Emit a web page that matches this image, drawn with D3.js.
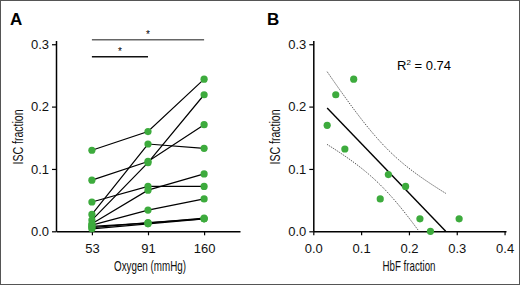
<!DOCTYPE html>
<html>
<head>
<meta charset="utf-8">
<title>ISC fraction</title>
<script src="https://cdnjs.cloudflare.com/ajax/libs/d3/7.8.5/d3.min.js"></script>
<style>
  body { margin: 0; background: #fff; }
  text { font-family: "Liberation Sans", Arial, sans-serif; }
</style>
</head>
<body>
<svg id="chart" width="520" height="285"></svg>
<script>
// panel A: ISC fraction per subject at three oxygen levels
const oxygen = ["53", "91", "160"];
const iscAt53  = [0.130, 0.082, 0.027, 0.018, 0.047, 0.012, 0.010, 0.006, 0.004, 0.008];
const iscAt91  = [0.160, 0.112, 0.140, 0.110, 0.072, 0.066, 0.034, 0.014, 0.012, 0.013];
const iscAt160 = [0.244, 0.171, 0.133, 0.219, 0.072, 0.092, 0.052, 0.020, 0.020, 0.021];
// significance brackets [from, to]
const brackets = [["53", "160"], ["53", "91"]];

// panel B: HbF fraction vs ISC fraction
const hbf = [0.0845, 0.047, 0.029, 0.066, 0.157, 0.193, 0.140, 0.223, 0.245, 0.305];
const isc = [0.244, 0.219, 0.170, 0.132, 0.091, 0.072, 0.052, 0.020, 0.000, 0.020];
const r2Label = "0.74";

const yTicks = [0, 0.1, 0.2, 0.3];
const xTicksB = [0, 0.1, 0.2, 0.3, 0.4];

const green = "#3dab3d";
const svg = d3.select("#chart");

svg.append("rect")
  .attr("x", 0.5).attr("y", 0.5)
  .attr("width", 519).attr("height", 284)
  .attr("fill", "none").attr("stroke", "#555");

function styleAxis(g) {
  g.selectAll(".domain").attr("stroke", "#000").attr("stroke-width", 1.5);
  g.selectAll(".tick line").attr("stroke", "#000").attr("stroke-width", 1.2);
  g.selectAll(".tick text").attr("font-size", 13).attr("fill", "#111")
    .style("font-family", "Liberation Sans, Arial, sans-serif");
}

// narrow axis titles: squeeze regular font to the width in the figure
function title(x, y, rot, txt, len) {
  svg.append("text")
    .attr("transform", `translate(${x},${y}) rotate(${rot})`)
    .attr("text-anchor", "middle").attr("font-size", 15)
    .attr("fill", "#111")
    .attr("textLength", len).attr("lengthAdjust", "spacingAndGlyphs")
    .text(txt);
}

// ---------- panel A ----------
const xA = d3.scalePoint().domain(oxygen).range([56, 240]).padding(0.64);
const yA = d3.scaleLinear().domain([0, 0.306]).range([231.3, 40.5]);

svg.append("g")
  .attr("transform", "translate(56,0)")
  .call(d3.axisLeft(yA).tickValues(yTicks).tickFormat(d3.format(".1f")).tickSize(4).tickSizeOuter(0).tickPadding(3))
  .call(styleAxis);

svg.append("g")
  .attr("transform", "translate(0,231.3)")
  .call(d3.axisBottom(xA).tickSize(4).tickSizeOuter(0).tickPadding(8))
  .call(styleAxis);

const subjects = iscAt53.map((v, i) => [
  {o: "53", v: v}, {o: "91", v: iscAt91[i]}, {o: "160", v: iscAt160[i]}
]);

const lineA = d3.line().x(d => xA(d.o)).y(d => yA(d.v));
svg.append("g").selectAll("path")
  .data(subjects)
  .join("path")
  .attr("d", lineA)
  .attr("fill", "none")
  .attr("stroke", "#000")
  .attr("stroke-width", 1.2);

svg.append("g").selectAll("circle")
  .data(subjects.flat())
  .join("circle")
  .attr("cx", d => xA(d.o))
  .attr("cy", d => yA(d.v))
  .attr("r", 3.6)
  .attr("fill", green);

// brackets
const bracketY = [39.7, 56.7];
const bracketCol = ["#666", "#111"];
brackets.forEach((b, i) => {
  svg.append("line")
    .attr("x1", xA(b[0])).attr("x2", xA(b[1]))
    .attr("y1", bracketY[i]).attr("y2", bracketY[i])
    .attr("stroke", bracketCol[i]).attr("stroke-width", 1.5);
  svg.append("text")
    .attr("x", (xA(b[0]) + xA(b[1])) / 2)
    .attr("y", bracketY[i] - 2)
    .attr("text-anchor", "middle")
    .attr("font-size", 10)
    .attr("fill", "#000")
    .text("*");
});

svg.append("text").attr("x", 10).attr("y", 25)
  .attr("font-size", 17).attr("font-weight", "bold").text("A");

title(23, 137, -90, "ISC fraction", 55);
title(150, 271, 0, "Oxygen (mmHg)", 72);

// ---------- panel B ----------
const xB = d3.scaleLinear().domain([0, 0.403]).range([313.3, 506]);
const yB = d3.scaleLinear().domain([0, 0.306]).range([231.3, 40.5]);

svg.append("g")
  .attr("transform", "translate(313.3,0)")
  .call(d3.axisLeft(yB).tickValues(yTicks).tickFormat(d3.format(".1f")).tickSize(4).tickSizeOuter(0).tickPadding(3))
  .call(styleAxis);

svg.append("g")
  .attr("transform", "translate(0,231.3)")
  .call(d3.axisBottom(xB).tickValues(xTicksB).tickFormat(d3.format(".1f")).tickSize(4).tickSizeOuter(0).tickPadding(8))
  .call(styleAxis);

// least squares fit with 95% confidence band
const n = hbf.length;
const mx = d3.mean(hbf), my = d3.mean(isc);
const sxx = d3.sum(hbf, x => (x - mx) ** 2);
const sxy = d3.sum(hbf, (x, i) => (x - mx) * (isc[i] - my));
const slope = sxy / sxx;
const icpt = my - slope * mx;
const sse = d3.sum(hbf, (x, i) => (isc[i] - (icpt + slope * x)) ** 2);
const s = Math.sqrt(sse / (n - 2));
const tcrit = 2.306;
const x0 = d3.min(hbf), x1 = -icpt / slope;
const xs = d3.range(0, 61).map(k => x0 + (x1 - x0) * k / 60);
const half = x => tcrit * s * Math.sqrt(1 / n + (x - mx) ** 2 / sxx);

const lineB = d3.line().x(d => xB(d[0])).y(d => yB(d[1]));
svg.append("path")
  .attr("d", lineB([[x0, icpt + slope * x0], [x1, 0]]))
  .attr("fill", "none").attr("stroke", "#000").attr("stroke-width", 1.4);

const upper = xs.map(x => [x, icpt + slope * x + half(x)]);
const lower = xs.map(x => [x, icpt + slope * x - half(x)]).filter(d => d[1] >= 0);
[upper, lower].forEach(band => {
  svg.append("path")
    .attr("d", lineB(band))
    .attr("fill", "none").attr("stroke", "#444")
    .attr("stroke-width", 1).attr("stroke-dasharray", "1.2,1.2");
});

svg.append("g").selectAll("circle")
  .data(hbf.map((x, i) => [x, isc[i]]))
  .join("circle")
  .attr("cx", d => xB(d[0]))
  .attr("cy", d => yB(d[1]))
  .attr("r", 3.6)
  .attr("fill", green);

const r2 = svg.append("text").attr("x", 397).attr("y", 70).attr("font-size", 13);
r2.append("tspan").text("R");
r2.append("tspan").attr("font-size", 8).attr("dy", -5).text("2");
r2.append("tspan").attr("dy", 5).text(" = " + r2Label);

svg.append("text").attr("x", 267).attr("y", 25)
  .attr("font-size", 17).attr("font-weight", "bold").text("B");

title(280, 137, -90, "ISC fraction", 55);
title(409, 271, 0, "HbF fraction", 53);
</script>
</body>
</html>
